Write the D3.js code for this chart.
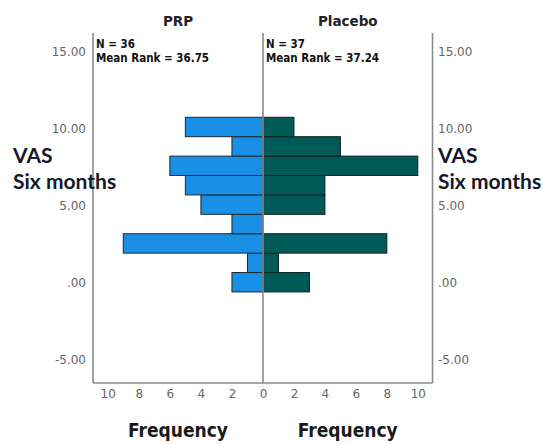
<!DOCTYPE html>
<html><head><meta charset="utf-8">
<script src="https://cdn.jsdelivr.net/npm/d3@7/dist/d3.min.js"></script>
<style>
html,body{margin:0;padding:0;background:#fff;}
svg{display:block;}
</style></head>
<body>
<svg id="chart" width="542" height="444"></svg>
<script>
// ---- data ----
const binCenters = [0.05, 1.31, 2.57, 3.83, 5.09, 6.35, 7.61, 8.87, 10.13];
const binWidth = 1.26;
const prpFreq = [2, 1, 9, 2, 4, 5, 6, 2, 5];
const placeboFreq = [3, 1, 8, 0, 4, 4, 10, 5, 2];
const groups = ["PRP", "Placebo"];
const groupN = ["N = 36", "N = 37"];
const groupMeanRank = ["Mean Rank = 36.75", "Mean Rank = 37.24"];
const yTickValues = [-5, 0, 5, 10, 15];
const yTickLabels = ["-5.00", ".00", "5.00", "10.00", "15.00"];
const xTickValues = [0, 2, 4, 6, 8, 10];
const yTitle = ["VAS", "Six months"];
const xTitle = "Frequency";

// ---- layout ----
const svg = d3.select("#chart");
const leftX = 93, midX = 263, rightX = 432.5, topY = 33, botY = 383;
const y = d3.scaleLinear().domain([-5, 15]).range([360, 52]);
const xL = d3.scaleLinear().domain([0, 10.95]).range([midX, leftX]);
const xR = d3.scaleLinear().domain([0, 10.95]).range([midX, rightX]);

const tickFont = "DejaVu Sans, sans-serif";
const tickColor = "#666";

// bars
const bh = Math.abs(y(binWidth) - y(0));
svg.append("g").selectAll("rect").data(binCenters).join("rect")
  .attr("x", (d, i) => xL(prpFreq[i]))
  .attr("y", d => y(d) - bh / 2)
  .attr("width", (d, i) => xL(0) - xL(prpFreq[i]))
  .attr("height", bh)
  .attr("fill", "#1a8fe6")
  .attr("stroke", "#1c2a33").attr("stroke-width", 1)
  .style("display", (d, i) => prpFreq[i] > 0 ? null : "none");
svg.append("g").selectAll("rect").data(binCenters).join("rect")
  .attr("x", xR(0))
  .attr("y", d => y(d) - bh / 2)
  .attr("width", (d, i) => xR(placeboFreq[i]) - xR(0))
  .attr("height", bh)
  .attr("fill", "#005a58")
  .attr("stroke", "#0f2222").attr("stroke-width", 1)
  .style("display", (d, i) => placeboFreq[i] > 0 ? null : "none");

// frame
const frame = svg.append("g").attr("stroke", "#8a8a8a").attr("stroke-width", 1.6).attr("fill", "none");
[leftX, midX, rightX].forEach(xx => {
  frame.append("line").attr("x1", xx).attr("x2", xx).attr("y1", topY).attr("y2", botY);
});
frame.append("line").attr("x1", leftX).attr("x2", rightX).attr("y1", botY).attr("y2", botY);

// y axes (labels only)
const yAxisL = d3.axisLeft(y).tickValues(yTickValues).tickSize(0).tickPadding(0)
  .tickFormat((d, i) => yTickLabels[i]);
const gyl = svg.append("g").attr("transform", `translate(86,0)`).call(yAxisL);
const yAxisR = d3.axisRight(y).tickValues(yTickValues).tickSize(0).tickPadding(0)
  .tickFormat((d, i) => yTickLabels[i]);
const gyr = svg.append("g").attr("transform", `translate(438,0)`).call(yAxisR);
[gyl, gyr].forEach(g => {
  g.select(".domain").remove();
  g.selectAll("text").attr("fill", tickColor).style("font-family", tickFont).style("font-size", "12px");
});

// x axes (labels only)
const xAxisL = d3.axisBottom(xL).tickValues(xTickValues).tickSize(0).tickPadding(0).tickFormat(d3.format("d"));
const xAxisR = d3.axisBottom(xR).tickValues(xTickValues.filter(v => v > 0)).tickSize(0).tickPadding(0).tickFormat(d3.format("d"));
const gxl = svg.append("g").attr("transform", `translate(0,389)`).call(xAxisL);
const gxr = svg.append("g").attr("transform", `translate(0,389)`).call(xAxisR);
[gxl, gxr].forEach(g => {
  g.select(".domain").remove();
  g.selectAll("text").attr("fill", tickColor).style("font-family", tickFont).style("font-size", "12px");
});

// panel titles
const centers = [(leftX + midX) / 2, (midX + rightX) / 2];
groups.forEach((gname, i) => {
  svg.append("text").attr("x", centers[i]).attr("y", 26).attr("text-anchor", "middle")
    .style("font-family", "DejaVu Sans, sans-serif").style("font-weight", "bold").style("font-size", "13.5px")
    .attr("fill", "#222").text(gname);
  const tx = (i === 0 ? leftX : midX) + 3;
  svg.append("text").attr("x", tx).attr("y", 48)
    .style("font-family", "DejaVu Sans Condensed, DejaVu Sans, sans-serif").style("font-weight", "bold").style("font-size", "11.5px")
    .attr("fill", "#111").text(groupN[i]);
  svg.append("text").attr("x", tx).attr("y", 62)
    .style("font-family", "DejaVu Sans Condensed, DejaVu Sans, sans-serif").style("font-weight", "bold").style("font-size", "11.5px")
    .attr("fill", "#111").text(groupMeanRank[i]);
});

// y titles
[13, 438].forEach(xx => {
  svg.append("text").attr("x", xx).attr("y", 163)
    .style("font-family", "Lato, sans-serif").style("font-weight", "bold").style("font-size", "21px")
    .attr("fill", "#15182a").text(yTitle[0]);
  svg.append("text").attr("x", xx).attr("y", 189)
    .style("font-family", "Lato, sans-serif").style("font-weight", "bold").style("font-size", "21px")
    .attr("fill", "#15182a").text(yTitle[1]);
});

// x titles
centers.forEach(cx => {
  svg.append("text").attr("x", cx).attr("y", 437).attr("text-anchor", "middle")
    .style("font-family", "DejaVu Sans Condensed, DejaVu Sans, sans-serif").style("font-weight", "bold").style("font-size", "19px")
    .attr("fill", "#1a1a1a").text(xTitle);
});
</script>
</body></html>
